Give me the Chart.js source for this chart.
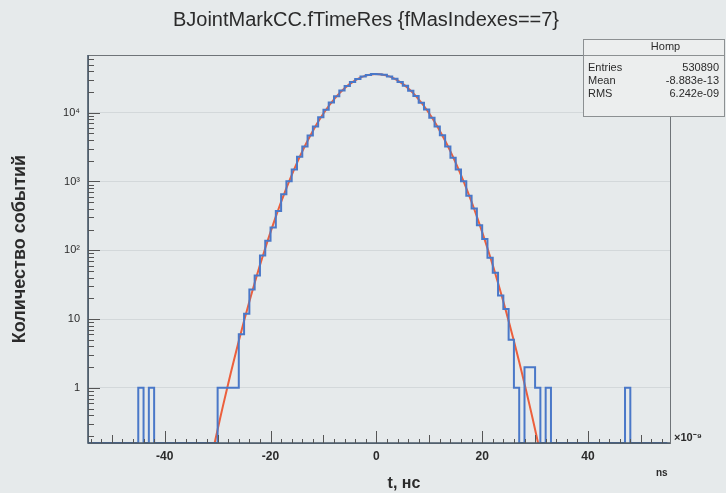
<!DOCTYPE html>
<html>
<head>
<meta charset="utf-8">
<script src="https://cdn.jsdelivr.net/npm/chart.js@4.4.1/dist/chart.umd.min.js"></script>
<style>
  html, body { margin: 0; padding: 0; background: #e6eaeb; }
  canvas { display: block; }
</style>
</head>
<body>
<canvas id="hist" width="726" height="493"></canvas>
<script>
// histogram: 1 ns bins starting at -55 ns
const binStart = -55;
const binWidth = 1;
const counts = [
  0, 0, 0, 0, 0, 0, 0, 0, 0, 0,              // -55 .. -46
  1, 0, 1,                                   // -45 .. -43
  0, 0, 0, 0, 0, 0, 0, 0, 0, 0, 0, 0,        // -42 .. -31
  1, 1, 1, 1, 6, 12, 27, 43, 84, 138,        // -30 .. -21
  214, 372, 650, 1010, 1490, 2290, 3240, 4660, 6310, 8560,        // -20 .. -11
  11020, 14110, 17280, 20950, 24380, 28010, 30960, 33720, 35380, 36420, // -10 .. -1
  36290, 35510, 33540, 31120, 27850, 24560, 20790, 17420, 13960, 11130, // 0 .. 9
  8440, 6290, 4700, 3230, 2210, 1490, 1010, 620, 405, 232,        // 10 .. 19
  146, 78, 47, 22, 14, 5, 1, 0, 2, 2,        // 20 .. 29
  1, 0, 1,                                   // 30 .. 32
  0, 0, 0, 0, 0, 0, 0, 0, 0, 0, 0, 0, 0, 0,  // 33 .. 46
  1,                                         // 47
  0, 0, 0, 0, 0, 0, 0                        // 48 .. 54
];

// gaussian fit
const fitX = [-31, -30, -29, -28, -27, -26, -25, -24, -23, -22, -21, -20, -19, -18, -17, -16,
  -15, -14, -13, -12, -11, -10, -9, -8, -7, -6, -5, -4, -3, -2, -1, 0,
  1, 2, 3, 4, 5, 6, 7, 8, 9, 10, 11, 12, 13, 14, 15,
  16, 17, 18, 19, 20, 21, 22, 23, 24, 25, 26, 27, 28, 29, 30, 31];
const fitY = [0.111, 0.249, 0.543, 1.15, 2.38, 4.8, 9.42, 18, 33.5, 60.8, 107, 184, 309, 504, 800, 1238,
  1865, 2736, 3910, 5440, 7370, 9730, 12510, 15660, 19100, 22680, 26230, 29540, 32400, 34620, 36020, 36500,
  36020, 34620, 32400, 29540, 26230, 22680, 19100, 15660, 12510, 9730, 7370, 5440, 3910, 2736, 1865,
  1238, 800, 504, 309, 184, 107, 60.8, 33.5, 18, 9.42, 4.8, 2.38, 1.15, 0.543, 0.249, 0.111];

const xTicks = [-40, -20, 0, 20, 40];
const yTicks = [1, 10, 100, 1000, 10000];
const yTickLabels = ['1', '10', '10²', '10³', '10⁴'];

const statsTitle = 'Homp';
const statsNames = ['Entries', 'Mean', 'RMS'];
const statsValues = ['530890', '-8.883e-13', '6.242e-09'];

const yMin = 0.158, yMax = 69000;
const xMin = -54.5, xMax = 55.5;
const textColor = '#2b2b2b';
const font = "'Liberation Sans', Arial, sans-serif";

// step points: left edge of every bin plus the last right edge
const histPoints = counts.map((c, i) => ({ x: binStart + i * binWidth, y: c > 0 ? c : yMin }));
histPoints.push({ x: binStart + counts.length * binWidth, y: yMin });
const fitPoints = fitX.map((x, i) => ({ x: x, y: fitY[i] }));

const rootFrame = {
  id: 'rootFrame',
  afterDraw(chart) {
    const ctx = chart.ctx;
    const a = chart.chartArea;
    const xs = chart.scales.x, ys = chart.scales.y;
    ctx.save();

    // frame
    ctx.strokeStyle = '#6f7478';
    ctx.lineWidth = 1;
    ctx.strokeRect(a.left + 0.5, a.top + 0.5, a.right - a.left, a.bottom - a.top);
    ctx.strokeStyle = '#4a5a6a';
    ctx.lineWidth = 1.6;
    ctx.beginPath();
    ctx.moveTo(a.left, a.top); ctx.lineTo(a.left, a.bottom); ctx.lineTo(a.right, a.bottom);
    ctx.stroke();

    // ticks inside the frame
    ctx.lineWidth = 1;
    ctx.strokeStyle = '#555';
    ctx.beginPath();
    for (let d = 0.1; d <= 100000; d *= 10) {
      for (let m = 1; m <= 9; m++) {
        const v = d * m;
        if (v < yMin || v > yMax) continue;
        const py = Math.round(ys.getPixelForValue(v)) + 0.5;
        const len = m === 1 ? 12 : 6;
        ctx.moveTo(a.left, py); ctx.lineTo(a.left + len, py);
      }
    }
    for (let v = -54; v <= 54; v += 2) {
      const px = Math.round(xs.getPixelForValue(v)) + 0.5;
      const len = v % 20 === 0 ? 12 : (v % 10 === 0 ? 8 : 4);
      ctx.moveTo(px, a.bottom); ctx.lineTo(px, a.bottom - len);
    }
    ctx.stroke();

    // title
    ctx.fillStyle = textColor;
    ctx.font = '20px ' + font;
    ctx.textAlign = 'center';
    ctx.textBaseline = 'middle';
    ctx.fillText('BJointMarkCC.fTimeRes {fMasIndexes==7}', 366, 20);

    // x axis title, exponent and unit
    ctx.font = 'bold 16px ' + font;
    ctx.fillText('t, нс', 404, 484);
    ctx.font = 'bold 11px ' + font;
    ctx.textAlign = 'left';
    ctx.fillText('×10⁻⁹', a.right + 4, a.bottom - 5);
    ctx.font = 'bold 10px ' + font;
    ctx.fillText('ns', 656, 473);

    // stats box
    const bx = 583, by = 39, bw = 141, bh = 77;
    ctx.fillStyle = '#eceeee';
    ctx.fillRect(bx, by, bw, bh);
    ctx.strokeStyle = '#8c9092';
    ctx.strokeRect(bx + 0.5, by + 0.5, bw, bh);
    ctx.beginPath();
    ctx.moveTo(bx, by + 16.5); ctx.lineTo(bx + bw, by + 16.5);
    ctx.stroke();
    ctx.fillStyle = textColor;
    ctx.font = '11px ' + font;
    ctx.textAlign = 'center';
    ctx.fillText(statsTitle, bx + bw / 2 + 12, by + 8);
    statsNames.forEach((n, i) => {
      const ty = by + 29 + i * 13;
      ctx.textAlign = 'left';
      ctx.fillText(n, bx + 5, ty);
      ctx.textAlign = 'right';
      ctx.fillText(statsValues[i], bx + bw - 5, ty);
    });
    ctx.restore();
  }
};

new Chart(document.getElementById('hist'), {
  type: 'line',
  data: {
    datasets: [{
      label: 'hist',
      data: histPoints,
      stepped: 'before',
      borderColor: '#4a78c8',
      borderWidth: 2,
      pointRadius: 0,
      fill: false
    }, {
      label: 'fit',
      data: fitPoints,
      borderColor: '#ec5f3c',
      borderWidth: 2,
      pointRadius: 0,
      tension: 0.3,
      fill: false
    }]
  },
  options: {
    responsive: false,
    animation: false,
    layout: { padding: { top: 55, right: 56, left: 0, bottom: 0 } },
    plugins: {
      legend: { display: false },
      title: { display: false },
      tooltip: { enabled: false }
    },
    scales: {
      x: {
        type: 'linear',
        min: xMin,
        max: xMax,
        afterFit: s => { s.height = 50; },
        afterBuildTicks: s => { s.ticks = xTicks.map(v => ({ value: v })); },
        grid: { display: false, drawTicks: false },
        border: { display: false },
        ticks: { padding: 6, color: textColor, font: { family: font, size: 12, weight: 'bold' } }
      },
      y: {
        type: 'logarithmic',
        min: yMin,
        max: yMax,
        afterFit: s => { s.width = 88; },
        afterBuildTicks: s => { s.ticks = yTicks.map(v => ({ value: v })); },
        grid: { color: '#d3d8da', lineWidth: 1, drawTicks: false },
        border: { display: false },
        ticks: {
          padding: 8,
          color: textColor,
          font: { family: font, size: 11 },
          callback: (v) => yTickLabels[yTicks.indexOf(v)]
        },
        title: {
          display: true,
          text: 'Количество событий',
          color: textColor,
          font: { family: font, size: 18, weight: 'bold' },
          padding: { top: 9, bottom: 0 }
        }
      }
    }
  },
  plugins: [rootFrame]
});
</script>
</body>
</html>
